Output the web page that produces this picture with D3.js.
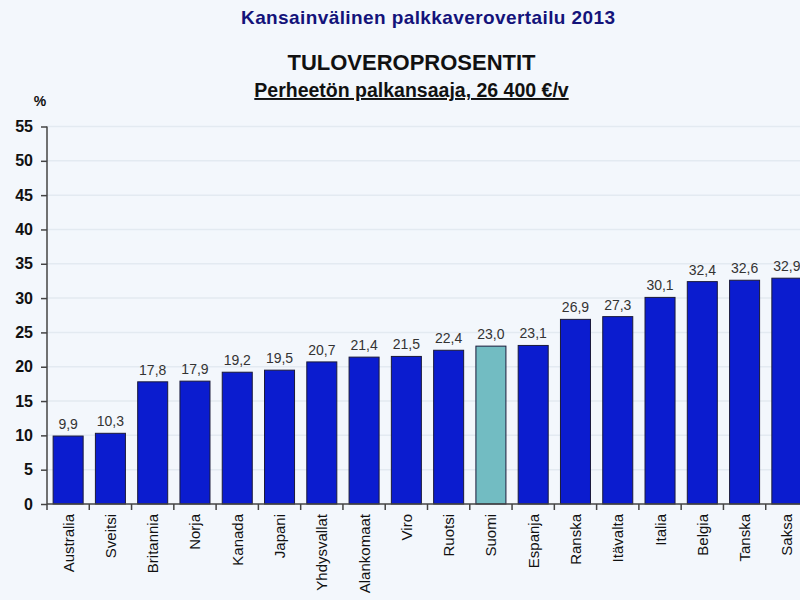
<!DOCTYPE html>
<html><head><meta charset="utf-8">
<script src="https://cdn.jsdelivr.net/npm/d3@7"></script>
<style>body{margin:0;background:#f3f7fc;} svg{display:block;font-family:Arial,"Liberation Sans",sans-serif;}</style>
</head><body>
<svg id="c" width="800" height="600"></svg>
<script>
const categories = ["Australia","Sveitsi","Britannia","Norja","Kanada","Japani","Yhdysvallat","Alankomaat","Viro","Ruotsi","Suomi","Espanja","Ranska","Itävalta","Italia","Belgia","Tanska","Saksa"];
const values = [9.9,10.3,17.8,17.9,19.2,19.5,20.7,21.4,21.5,22.4,23.0,23.1,26.9,27.3,30.1,32.4,32.6,32.9];
const yTicks = [0,5,10,15,20,25,30,35,40,45,50,55];
const highlight = "Suomi";

const svg = d3.select("#c");
svg.append("rect").attr("width",800).attr("height",600).attr("fill","#f3f7fc");

const x = d3.scaleBand().domain(categories).range([47, 808]).paddingInner(0.29).paddingOuter(0.145);
const y = d3.scaleLinear().domain([0,55]).range([504,126.5]);

// grid
svg.append("g").selectAll("line").data(yTicks.filter(d=>d>0)).join("line")
  .attr("x1",47).attr("x2",800).attr("y1",d=>y(d)).attr("y2",d=>y(d))
  .attr("stroke","#e3eaf1").attr("stroke-width",1.5);

// bars
svg.append("g").selectAll("rect").data(values).join("rect")
  .attr("x",(d,i)=>x(categories[i])).attr("width",x.bandwidth())
  .attr("y",d=>y(d)).attr("height",d=>y(0)-y(d))
  .attr("fill",(d,i)=>categories[i]===highlight?"#72bcc2":"#0b1ccf")
  .attr("stroke","#1a1a3a").attr("stroke-width",1);

// value labels
svg.append("g").selectAll("text").data(values).join("text")
  .attr("x",(d,i)=>x(categories[i])+x.bandwidth()/2).attr("y",d=>y(d)-7)
  .attr("text-anchor","middle").attr("font-size",14).attr("fill","#333")
  .text(d=>d.toFixed(1).replace(".",","));

// y axis
const ya = svg.append("g").attr("transform","translate(47,0)")
  .call(d3.axisLeft(y).tickValues(yTicks).tickSize(6).tickPadding(8));
ya.select(".domain").attr("stroke","#444").attr("stroke-width",1.5).attr("d","M0,126.5V504");
ya.selectAll(".tick line").attr("stroke","#444").attr("stroke-width",1.5);
ya.selectAll(".tick text").attr("font-size",16).attr("font-weight","bold").attr("fill","#111")
  .attr("font-family","Arial,'Liberation Sans',sans-serif");

// x axis
const step = x.step();
const xg = svg.append("g");
xg.append("line").attr("x1",47).attr("x2",800).attr("y1",504).attr("y2",504).attr("stroke","#444").attr("stroke-width",1.5);
const bounds = d3.range(categories.length+1).map(i=>x(categories[0]) - (x.step()-x.bandwidth())/2 + i*step);
xg.selectAll("line.t").data(bounds).join("line").attr("class","t")
  .attr("x1",d=>d).attr("x2",d=>d).attr("y1",504).attr("y2",510).attr("stroke","#444").attr("stroke-width",1.5);
xg.selectAll("text").data(categories).join("text")
  .attr("transform",d=>`translate(${x(d)+x.bandwidth()/2+5.5},514) rotate(-90)`)
  .attr("text-anchor","end").attr("font-size",15).attr("fill","#111").text(d=>d);

// titles
svg.append("text").attr("x",428).attr("y",24).attr("text-anchor","middle")
  .attr("font-size",19).attr("font-weight","bold").attr("fill","#13137a")
  .attr("textLength",374).text("Kansainvälinen palkkaverovertailu 2013");
svg.append("text").attr("x",411.5).attr("y",69.5).attr("text-anchor","middle")
  .attr("font-size",22).attr("font-weight","bold").attr("fill","#111").text("TULOVEROPROSENTIT");
svg.append("text").attr("x",411.5).attr("y",97).attr("text-anchor","middle")
  .attr("font-size",19.5).attr("font-weight","bold").attr("fill","#111")
  .attr("text-decoration","underline").text("Perheetön palkansaaja, 26 400 €/v");
svg.append("text").attr("x",40).attr("y",106).attr("text-anchor","middle")
  .attr("font-size",14).attr("font-weight","bold").attr("fill","#111").text("%");
</script>
</body></html>
